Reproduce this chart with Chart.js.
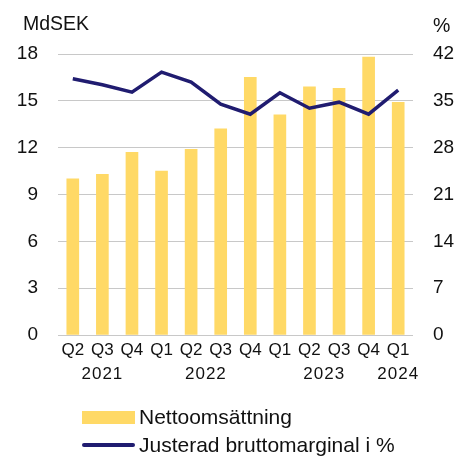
<!DOCTYPE html>
<html>
<head>
<meta charset="utf-8">
<script src="https://cdn.jsdelivr.net/npm/chart.js@4/dist/chart.umd.min.js"></script>
<style>
  html, body { margin: 0; padding: 0; background: #fff; }
  #wrap { position: relative; width: 459px; height: 457px; }
  #legend { position: absolute; left: 82px; top: 403px; font-family: "Liberation Sans", Arial, sans-serif; font-size: 21px; color: #111; }
  .item { display: flex; align-items: center; height: 28px; }
  .sw { width: 53px; margin-right: 4px; }
</style>
</head>
<body>
<div id="wrap">
  <canvas id="c" width="459" height="457"></canvas>
  <div id="legend">
    <div class="item"><span class="sw" style="height:13px;background:#FFD966"></span>Nettoomsättning</div>
    <div class="item"><span class="sw" style="height:3.5px;background:#201C70;border-radius:2px"></span>Justerad bruttomarginal i %</div>
  </div>
</div>
<script>
// Kvartal och år
const quarters = ['Q2', 'Q3', 'Q4', 'Q1', 'Q2', 'Q3', 'Q4', 'Q1', 'Q2', 'Q3', 'Q4', 'Q1'];
const years = ['2021', '2022', '2023', '2024'];
const yearGroups = [[0, 2], [3, 6], [7, 10], [11, 11]];

// Nettoomsättning, MdSEK
const nettoomsattning = [10.0, 10.3, 11.7, 10.5, 11.9, 13.2, 16.5, 14.1, 15.9, 15.8, 17.8, 14.9];
// Justerad bruttomarginal, %
const bruttomarginal = [38.3, 37.4, 36.3, 39.3, 37.8, 34.5, 33.0, 36.2, 33.9, 34.8, 33.0, 36.6];

const leftTicks = [0, 3, 6, 9, 12, 15, 18];
const rightTicks = [0, 7, 14, 21, 28, 35, 42];

const FONT = '"Liberation Sans", Arial, sans-serif';

// Rita årtal under kvartalen och axelrubriker
const extraLabels = {
  id: 'extraLabels',
  afterDraw(chart) {
    const ctx = chart.ctx;
    const x = chart.scales.x;
    ctx.save();
    ctx.fillStyle = '#111';
    ctx.font = '17px ' + FONT;
    ctx.letterSpacing = '1px';
    ctx.textAlign = 'center';
    ctx.textBaseline = 'middle';
    years.forEach((y, i) => {
      const [a, b] = yearGroups[i];
      const px = (x.getPixelForValue(a) + x.getPixelForValue(b)) / 2;
      ctx.fillText(y, px, 374);
    });
    ctx.letterSpacing = '0px';
    ctx.font = '19.5px ' + FONT;
    ctx.textAlign = 'left';
    ctx.fillText('MdSEK', 23, 25);
    ctx.fillText('%', 433, 27);
    ctx.restore();
  }
};

const ctx = document.getElementById('c').getContext('2d');
new Chart(ctx, {
  data: {
    labels: quarters,
    datasets: [
      {
        type: 'line',
        label: 'Justerad bruttomarginal i %',
        data: bruttomarginal,
        yAxisID: 'y1',
        borderColor: '#201C70',
        borderWidth: 3.5,
        pointRadius: 0,
        tension: 0,
        order: 0
      },
      {
        type: 'bar',
        label: 'Nettoomsättning',
        data: nettoomsattning,
        yAxisID: 'y',
        backgroundColor: '#FFD966',
        barThickness: 12,
        order: 1
      }
    ]
  },
  options: {
    responsive: false,
    animation: false,
    layout: { padding: { top: 54, bottom: 62, left: 0, right: 0 } },
    plugins: { legend: { display: false }, tooltip: { enabled: false } },
    scales: {
      x: {
        grid: { display: false, drawTicks: false },
        border: { display: false },
        ticks: { color: '#111', font: { family: FONT, size: 17 }, padding: 5, maxRotation: 0, autoSkip: false },
        afterFit: (s) => { s.height = 60; }
      },
      y: {
        position: 'left',
        min: 0, max: 18,
        afterBuildTicks: (s) => { s.ticks = leftTicks.map(v => ({ value: v })); },
        grid: { color: '#C8C8C8', lineWidth: 1, drawTicks: false },
        border: { display: false },
        ticks: { color: '#111', font: { family: FONT, size: 19 }, padding: 20 },
        afterFit: (s) => { s.width = 58; }
      },
      y1: {
        position: 'right',
        min: 0, max: 42,
        afterBuildTicks: (s) => { s.ticks = rightTicks.map(v => ({ value: v })); },
        grid: { display: false, drawTicks: false },
        border: { display: false },
        ticks: { color: '#111', font: { family: FONT, size: 19 }, padding: 20 },
        afterFit: (s) => { s.width = 46; }
      }
    }
  },
  plugins: [extraLabels]
});
</script>
</body>
</html>
